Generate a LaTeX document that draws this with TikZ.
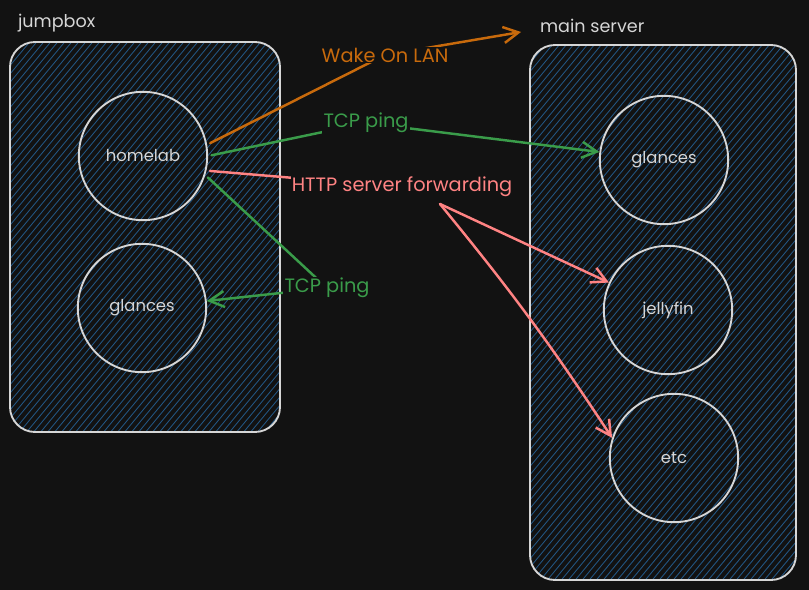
\documentclass[tikz,border=0pt]{standalone}
\usepackage{fontspec}
\setmainfont{Poppins}
\usetikzlibrary{arrows.meta}

\definecolor{bg}{HTML}{121212}
\definecolor{ink}{HTML}{D6D6D6}
\definecolor{hatchblue}{HTML}{225582}
\definecolor{wolorange}{HTML}{C86A0C}
\definecolor{pinggreen}{HTML}{3A9C4A}
\definecolor{httppink}{HTML}{FF8383}

\begin{document}
\begin{tikzpicture}[x=0.03cm,y=-0.03cm,>={Straight Barb[length=4.5mm,width=4.8mm]},
    box/.style={draw=ink,line width=1.6pt,rounded corners=0.75cm},
    host/.style={circle,draw=ink,line width=1.6pt,minimum size=3.85cm,text=ink,font=\fontsize{14}{16}\selectfont},
    title/.style={text=ink,anchor=base west,font=\fontsize{15}{17}\selectfont},
    hatch/.style={hatchblue,line width=0.75pt},
    link/.style={->,line width=2.1pt,shorten <=3pt,line cap=round,line join=round},
    lbl/.style={fill=bg,inner sep=1pt,font=\fontsize{16.5}{18}\selectfont}]
  \useasboundingbox (0,0) rectangle (809,590);
  \fill[bg] (0,0) rectangle (809,590);

  % hatched boxes
  \begin{scope}
    \clip[rounded corners=0.75cm] (10,42) rectangle (280,432);
    \foreach \x in {-330,-323,...,285} \draw[hatch] (\x,440) -- ++(350,-420);
  \end{scope}
  \begin{scope}
    \clip[rounded corners=0.75cm] (530,45) rectangle (796,580);
    \foreach \x in {70,77,...,800} \draw[hatch] (\x,590) -- ++(475,-570);
  \end{scope}
  \draw[box] (10,42) rectangle (280,432);
  \draw[box] (530,45) rectangle (796,580);

  \node[title] (jumpbox) at (14,28) {jumpbox};
  \node[title] (mainsrv) at (536,33) {main server};

  \node[host] (homelab)  at (143,156) {homelab};
  \node[host] (glancesL) at (142,308) {glances};
  \node[host] (glancesR) at (664,160) {glances};
  \node[host] (jellyfin) at (668,310) {jellyfin};
  \node[host] (etc)      at (674,458) {etc};

  \coordinate (wolpos)   at (385,55);
  \coordinate (wolend)   at (521,32);
  \coordinate (pingApos) at (366,123);
  \coordinate (httppos)  at (402,187);
  \coordinate (httpfork) at (440,204);
  \coordinate (pingBpos) at (327,288);

  \draw[link,wolorange] (homelab.10) -- (wolpos) -- (wolend);
  \draw[link,pinggreen] (homelab.0) -- (pingApos) -- (glancesR);
  \draw[link,httppink,-] (homelab.-13) -- (httppos);
  \draw[link,httppink,shorten <=0pt] (httpfork) -- (jellyfin);
  \draw[link,httppink,shorten <=0pt] (httpfork) to[bend left=3] (etc.162);
  \draw[link,pinggreen] (homelab.-17) -- (pingBpos) -- (glancesL);

  \node[lbl,text=wolorange] (wol)   at (wolpos)  {Wake On LAN};
  \node[lbl,text=pinggreen] (pingA) at (pingApos) {TCP ping};
  \node[lbl,text=httppink]  (http)  at (httppos) {HTTP server forwarding};
  \node[lbl,text=pinggreen] (pingB) at (pingBpos) {TCP ping};
\end{tikzpicture}
\end{document}
